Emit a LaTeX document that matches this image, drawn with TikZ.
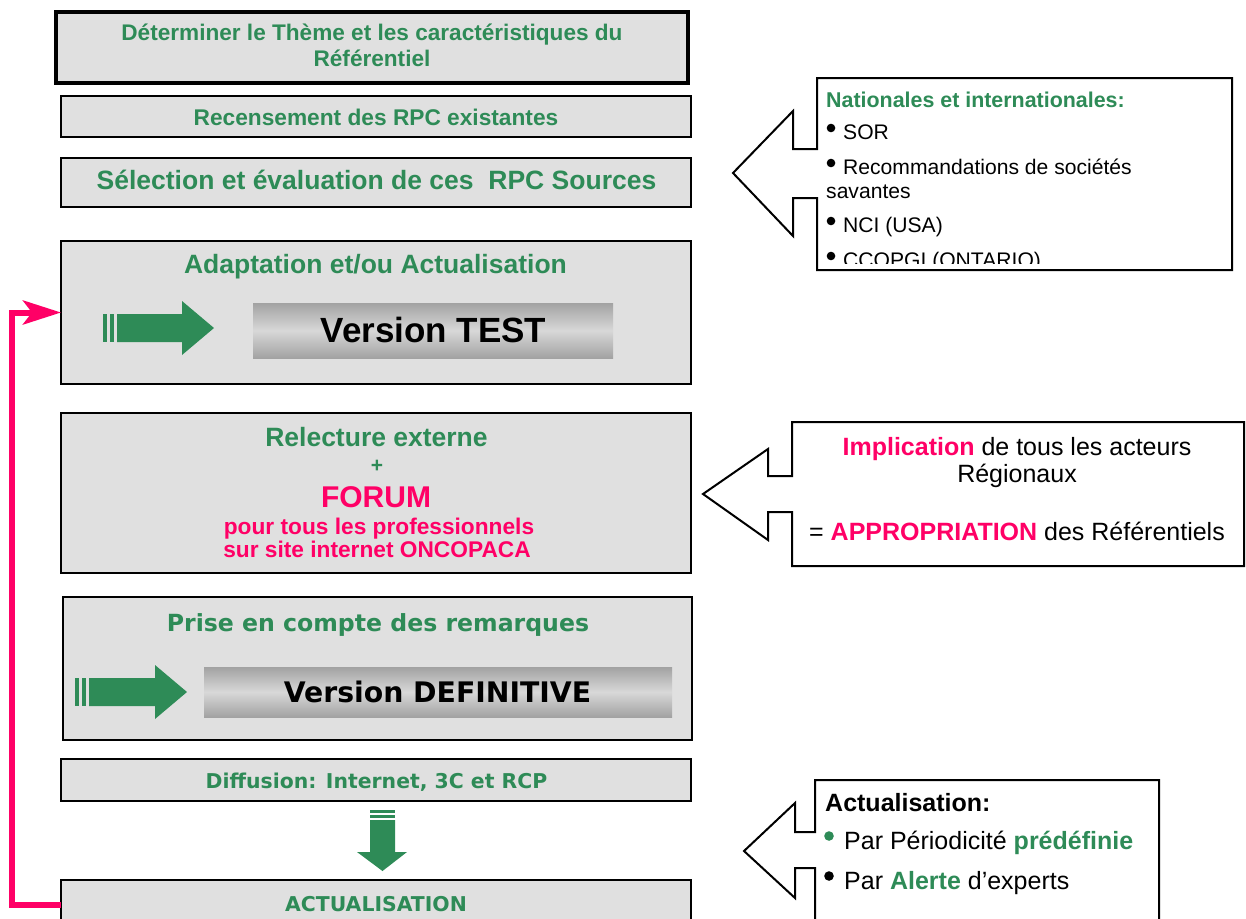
\documentclass[tikz,border=0pt]{standalone}
\usepackage{fontspec}
\setmainfont{Liberation Sans}
\newfontfamily\dvfont{DejaVu Sans}
\usetikzlibrary{arrows.meta,calc}
\definecolor{sgreen}{RGB}{46,139,87}
\definecolor{hpink}{RGB}{255,0,102}
\definecolor{boxgray}{RGB}{224,224,224}
\definecolor{gdark}{RGB}{162,162,162}
\definecolor{glight}{RGB}{216,216,216}
\newcommand\fs[1]{\fontsize{#1}{#1}\selectfont}
\begin{document}
\begin{tikzpicture}[x=1pt,y=-1pt,
  box/.style={draw=black, line width=2.5pt, fill=boxgray, inner sep=0pt, outer sep=0pt},
  gradbox/.style={inner sep=0pt, outer sep=0pt, top color=gdark, bottom color=gdark, middle color=glight},
  gt/.style={text=sgreen, inner sep=0pt, anchor=base},
  pt/.style={text=hpink, inner sep=0pt, anchor=base},
  bt/.style={text=black, inner sep=0pt, anchor=base},
  lt/.style={text=black, inner sep=0pt, anchor=base west},
  callout/.style={draw=black, line width=2pt, fill=white, line join=miter},
  pinkline/.style={draw=hpink, line width=6pt, -{Stealth[length=38pt,width=24pt,inset=9pt]}}
]
\useasboundingbox (0,0) rectangle (1246,918);
\clip (0,0) rectangle (1246,918);

% main boxes
\node[box, line width=3.5pt, minimum width=632, minimum height=71] (b1) at (372,47.5) {};
\node[box, minimum width=630, minimum height=41] (b2) at (376,116.5) {};
\node[box, minimum width=630, minimum height=49] (b3) at (376,182.5) {};
\node[box, minimum width=630, minimum height=143] (b4) at (376,312.5) {};
\node[box, minimum width=630, minimum height=160] (b5) at (376,493) {};
\node[box, minimum width=629, minimum height=143] (b6) at (377.5,668.5) {};
\node[box, minimum width=630, minimum height=42] (b7) at (376,780) {};
\node[box, minimum width=630, minimum height=50] (b8) at (376,905) {};

% gradient boxes
\node[gradbox, minimum width=360, minimum height=55] (vt) at (433,330.5) {};
\node[gradbox, minimum width=468, minimum height=50] (vd) at (438,692) {};

% texts
\node[gt, font=\fs{22.6}\bfseries] (t1a) at (372,40) {Déterminer le Thème et les caractéristiques du};
\node[gt, font=\fs{22.6}\bfseries] (t1b) at (372,66) {Référentiel};
\node[gt, font=\fs{22.7}\bfseries] (t2) at (376,125) {Recensement des RPC existantes};
\node[gt, font=\fs{26.5}\bfseries] (t3) at (376.5,189.5) {Sélection et évaluation de ces\ \ RPC Sources};
\node[gt, font=\fs{26.5}\bfseries] (t4) at (375.5,273.5) {Adaptation et/ou Actualisation};
\node[bt, font=\fs{35}\bfseries] (tvt) at (433.5,342.5) {Version TEST};
\node[gt, font=\fs{26.5}\bfseries] (t5a) at (376.5,446.5) {Relecture externe};
\node[gt, font=\fs{21}\bfseries] (t5b) at (377,472) {+};
\node[pt, font=\fs{30}\bfseries] (t5c) at (376,507) {FORUM};
\node[pt, font=\fs{22.7}\bfseries] (t5d) at (379,534) {pour tous les professionnels};
\node[pt, font=\fs{22.7}\bfseries] (t5e) at (377,557) {sur site internet ONCOPACA};
\node[gt, font=\dvfont\fs{23.6}\bfseries] (t6) at (378,631) {Prise en compte des remarques};
\node[bt, font=\dvfont\fs{28.3}\bfseries] (tvd) at (437.5,702) {Version DEFINITIVE};
\node[gt, font=\dvfont\fs{20.4}\bfseries] (t7) at (376.5,788.5) {Diffusion: Internet, 3C et RCP};
\node[gt, font=\dvfont\fs{20.4}\bfseries] (t8) at (376,911) {ACTUALISATION};

% green arrows
\fill[sgreen] (103,314) rectangle (107,342);
\fill[sgreen] (110,314) rectangle (114,342);
\fill[sgreen] (117,314) -- (182,314) -- (182,301) -- (214,328) -- (182,355) -- (182,342) -- (117,342) -- cycle;

\fill[sgreen] (75,678) rectangle (79,706);
\fill[sgreen] (82,678) rectangle (86,706);
\fill[sgreen] (89,678) -- (155,678) -- (155,665) -- (187,692) -- (155,719) -- (155,706) -- (89,706) -- cycle;

\fill[sgreen] (370,810) rectangle (395,812.5);
\fill[sgreen] (370,814.5) rectangle (395,818);
\fill[sgreen] (370,820) -- (370,852) -- (357,852) -- (382.5,871) -- (407,852) -- (395,852) -- (395,820) -- cycle;

% pink loop connector
\draw[pinkline] (b8.west) -- ++(-49,0) |- (b4.west);

% callout 1
\draw[callout] (817,149) -- (793,149) -- (793,111) -- (733,173) -- (793,236) -- (793,198) -- (817,198) -- (817,270) -- (1232,270) -- (1232,78) -- (817,78) -- cycle;
\begin{scope}
\clip (818,79) rectangle (1231,263);
\node[lt, text=sgreen, font=\fs{21.4}\bfseries] (c1h) at (826,107) {Nationales et internationales:};
\node[lt, font=\fs{21.1}] (c1a) at (843,139) {SOR};
\node[lt, font=\fs{21.1}] (c1b) at (843,174) {Recommandations de sociétés};
\node[lt, font=\fs{21.1}] (c1c) at (826,198) {savantes};
\node[lt, font=\fs{21.1}] (c1d) at (843,232) {NCI (USA)};
\node[lt, font=\fs{21.1}] (c1e) at (843,267) {CCOPGI (ONTARIO)};
\fill (831,128) circle[radius=4.3pt];
\fill (831,163) circle[radius=4.3pt];
\fill (831,221) circle[radius=4.3pt];
\fill (831,256) circle[radius=4.3pt];
\end{scope}

% callout 2
\draw[callout] (792,476) -- (768,476) -- (768,449) -- (703,494) -- (768,540) -- (768,512) -- (792,512) -- (792,566) -- (1244,566) -- (1244,422) -- (792,422) -- cycle;
\node[bt, font=\fs{25}] (c2a) at (1017,455) {\textcolor{hpink}{\bfseries Implication} de tous les acteurs};
\node[bt, font=\fs{25}] (c2b) at (1017,482) {Régionaux};
\node[bt, font=\fs{25}] (c2c) at (1017,540) {= \textcolor{hpink}{\bfseries APPROPRIATION} des Référentiels};

% callout 3
\draw[callout] (815,832) -- (795,832) -- (795,803) -- (744,851) -- (795,898) -- (795,868) -- (815,868) -- (815,930) -- (1159,930) -- (1159,780) -- (815,780) -- cycle;
\node[lt, font=\fs{25}\bfseries] (c3h) at (825,811) {Actualisation:};
\fill[sgreen] (829,836) circle[radius=4.8pt];
\node[lt, font=\fs{25}] (c3a) at (844,849) {Par Périodicité \textcolor{sgreen}{\bfseries prédéfinie}};
\fill (829,876) circle[radius=4.8pt];
\node[lt, font=\fs{25}] (c3b) at (844,889) {Par \textcolor{sgreen}{\bfseries Alerte} d’experts};
\end{tikzpicture}
\end{document}
